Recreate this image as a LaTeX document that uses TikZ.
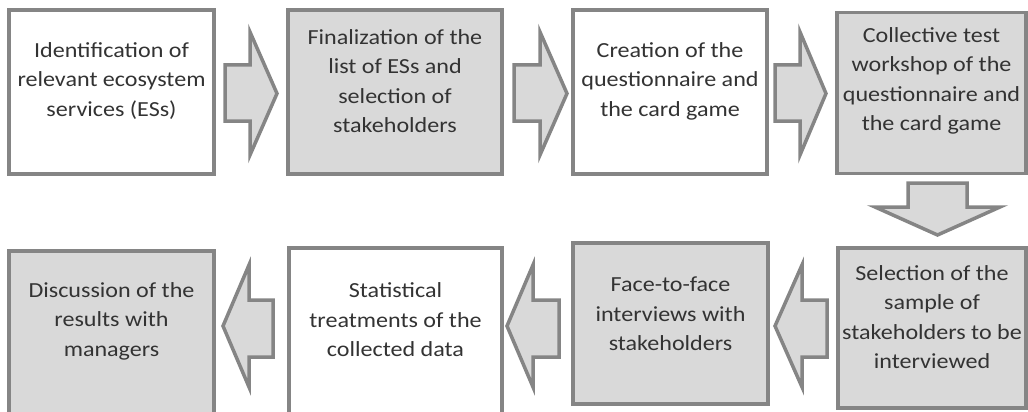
\documentclass[tikz,border=0pt]{standalone}
\usepackage{fontspec}
\setmainfont{Carlito}[FakeStretch=1.12]
\definecolor{boxline}{HTML}{858585}
\definecolor{boxgray}{HTML}{D9D9D9}
\definecolor{txt}{HTML}{333333}
\tikzset{
  stepbox/.style={draw=boxline, line width=3.5pt, inner sep=0pt, outer sep=0pt},
  whitebox/.style={stepbox, fill=white},
  graybox/.style={stepbox, fill=boxgray},
  steptext/.style={align=center, text=txt, inner sep=0pt, font=\fontsize{21.5}{29.5}\selectfont},
  blockarrow/.style={draw=boxline, fill=boxgray, line width=3.5pt, line join=miter},
}
% right-pointing block arrow: shaft start, head base, tip
\newcommand\rblock[3]{\draw[blockarrow] (#1,65)--(#2,65)--(#2,32)--(#3,93.5)--(#2,155)--(#2,121)--(#1,121)--cycle;}
% left-pointing block arrow: shaft start (right), head base, tip
\newcommand\lblock[3]{\draw[blockarrow] (#1,300)--(#2,300)--(#2,265)--(#3,326)--(#2,387)--(#2,357)--(#1,357)--cycle;}
\begin{document}
\begin{tikzpicture}[x=1pt,y=-1pt]
\useasboundingbox (0,0) rectangle (1028,412);
% top row
\node[whitebox, minimum width=205, minimum height=164] (b1) at (111.5,92) {};
\node[graybox,  minimum width=214, minimum height=164] (b2) at (395,92) {};
\node[whitebox, minimum width=194, minimum height=164] (b3) at (670,92) {};
\node[graybox,  minimum width=189, minimum height=161] (b4) at (931.5,93) {};
% bottom row
\node[graybox,  minimum width=188, minimum height=160] (b5) at (932,328) {};
\node[graybox,  minimum width=195, minimum height=161] (b6) at (670.5,323.5) {};
\node[whitebox, minimum width=213, minimum height=180] (b7) at (395.5,338) {};
\node[graybox,  minimum width=205, minimum height=180] (b8) at (111.5,341) {};
% texts
\node[steptext] (t1) at (111.5,81) {Identification of\\relevant ecosystem\\services (ESs)};
\node[steptext] (t2) at (395,81) {Finalization of the\\list of ESs and\\selection of\\stakeholders};
\node[steptext] (t3) at (670,81) {Creation of the\\questionnaire and\\the card game};
\node[steptext] (t4) at (931.5,81) {Collective test\\workshop of the\\questionnaire and\\the card game};
\node[steptext] (t5) at (932,317) {Selection of the\\sample of\\stakeholders to be\\interviewed};
\node[steptext] (t6) at (670.5,314) {Face-to-face\\interviews with\\stakeholders};
\node[steptext] (t7) at (395.5,320) {Statistical\\treatments of the\\collected data};
\node[steptext] (t8) at (111.5,321) {Discussion of the\\results with\\managers};
% connectors (block arrows)
\rblock{225}{250}{277}
\rblock{514}{540}{567}
\rblock{775}{800}{826}
\draw[blockarrow] (908,183)--(967,183)--(967,207)--(1000,207)--(937.5,235)--(875,207)--(908,207)--cycle;
\lblock{827}{802}{775}
\lblock{559}{533}{507}
\lblock{273}{249}{223}
\end{tikzpicture}
\end{document}
